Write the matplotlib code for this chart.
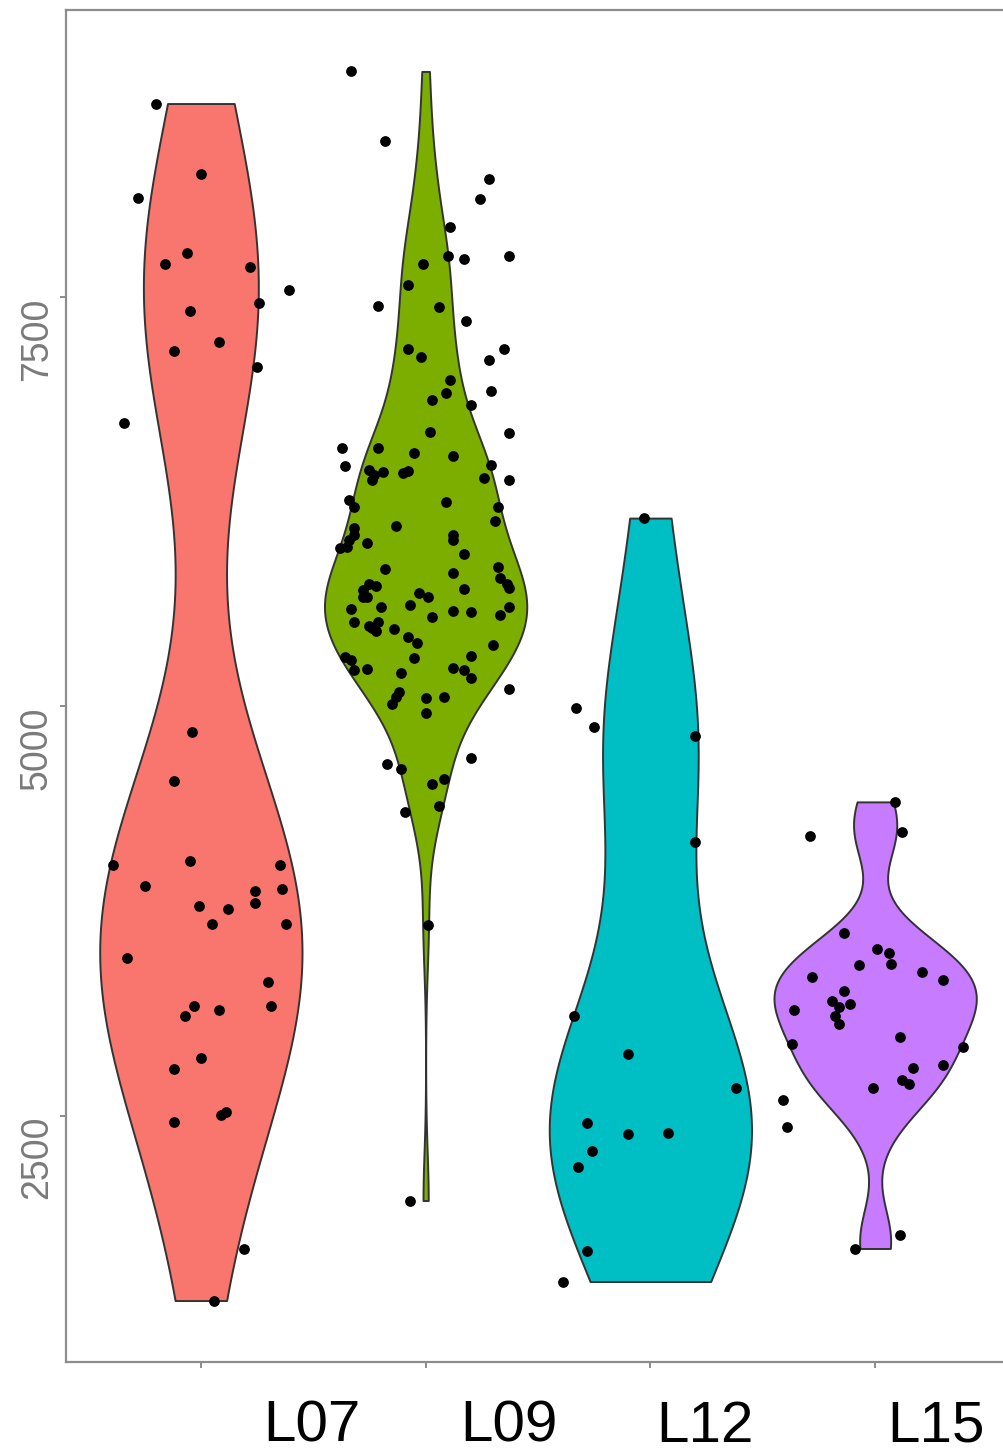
import matplotlib
matplotlib.use("Agg")
import matplotlib.pyplot as plt
import matplotlib.transforms as mtransforms
import numpy as np

# groups and fill colours (ggplot default hues)
groups = ["L07", "L09", "L12", "L15"]
colors = ["#F8766D", "#7CAE00", "#00BFC4", "#C77CFF"]

# values, with the horizontal jitter of each dot
l07_vals = [8684, 8104, 8251, 7701, 7768, 7683, 7414, 7463, 7543, 7225, 7170, 7072, 6731,
            4844, 4545, 4032, 4057, 3904, 4032, 3886, 3873, 3800, 3782, 3764, 3672, 3672,
            3464, 3318, 3171, 3171, 3147, 3110, 2854, 2787, 2524, 2506, 2463, 1682, 1370]
l07_jit = [-0.20, -0.28, 0.00, -0.16, -0.06, 0.22, -0.05, 0.26, 0.39, 0.08, -0.12, 0.25, -0.34,
           -0.04, -0.12, -0.39, -0.05, -0.25, 0.35, 0.36, 0.24, 0.24, -0.01, 0.12, 0.05, 0.38,
           -0.33, 0.30, 0.31, -0.03, 0.08, -0.07, 0.00, -0.12, 0.11, 0.09, -0.12, 0.19, 0.06]

l09_vals = [8880, 8458, 8220, 8098, 7927, 7750, 7732, 7750, 7701, 7573, 7445, 7439, 7353,
            7182, 7134, 7182, 7115, 6993, 6914, 6926, 6871, 6840, 6676, 6670,
            6578, 6578, 6547, 6529, 6468, 6444, 6413, 6431, 6383, 6425, 6438, 6474, 6395,
            6383, 6248, 6260, 6218, 6218, 6132, 6102, 6090, 6047, 6016, 5967, 5974, 5998,
            6047, 6016, 5931, 5839, 5851, 5784, 5748, 5723, 5815, 5748, 5711, 5735, 5668,
            5668, 5693, 5668, 5717, 5619, 5595, 5607, 5546, 5583, 5577, 5607, 5558, 5516,
            5516, 5479, 5461, 5491, 5473, 5424, 5387, 5375, 5302, 5284, 5223, 5229, 5204,
            5296, 5308, 5235, 5223, 5174, 5107, 5088, 5058, 5015, 5052, 5058, 4960, 4685,
            4649, 4618, 4557, 4527, 4392, 4356, 3666, 1981]
l09_jit = [-0.33, -0.18, 0.28, 0.24, 0.11, 0.10, 0.17, 0.37, -0.01, -0.08, -0.21, 0.06, 0.18,
           -0.08, -0.02, 0.35, 0.28, 0.11, 0.09, 0.29, 0.03, 0.20, 0.02, 0.37,
           -0.37, -0.21, -0.05, 0.12, -0.36, -0.25, -0.23, -0.19, -0.24, -0.10, -0.08, 0.29, 0.26,
           0.37, 0.09, -0.34, -0.32, 0.32, 0.31, -0.13, -0.32, -0.32, -0.34, -0.38, -0.35, -0.26,
           0.12, 0.12, 0.17, -0.18, 0.32, 0.33, 0.36, 0.37, 0.12, -0.25, -0.28, -0.22, -0.28,
           -0.26, -0.03, 0.01, 0.17, -0.07, -0.33, -0.20, 0.03, 0.12, 0.20, 0.37, 0.33, -0.32,
           -0.21, -0.24, -0.22, -0.25, -0.14, -0.08, -0.04, 0.30, -0.36, -0.33, -0.32, -0.26, -0.11,
           -0.05, 0.20, 0.12, 0.17, 0.20, 0.37, -0.12, -0.13, -0.15, 0.00, 0.08, 0.00, 0.20,
           -0.17, -0.11, 0.08, 0.03, 0.06, -0.09, 0.01, -0.07]

l12_vals = [6151, 4991, 4875, 4820, 4173, 3110, 2878, 2671, 2457, 2390, 2396, 2286, 2188, 1670, 1486]
l12_jit = [-0.03, -0.33, -0.25, 0.20, 0.20, -0.34, -0.10, 0.38, -0.28, -0.10, 0.08, -0.26, -0.32, -0.28, -0.39]

l15_vals = [4417, 4234, 4209, 3617, 3519, 3495, 3428, 3422, 3348, 3379, 3330, 3263, 3202, 3184,
            3165, 3110, 3061, 3147, 2939, 2982, 2921, 2811, 2793, 2720, 2695, 2671, 2597, 2432,
            1773, 1688]
l15_jit = [0.09, 0.12, -0.29, -0.14, 0.01, 0.06, 0.07, -0.07, -0.28, 0.21, 0.30, -0.14, -0.19, -0.11,
           -0.16, -0.18, -0.16, -0.36, -0.37, 0.11, 0.39, 0.30, 0.17, 0.12, 0.15, -0.01, -0.41, -0.39,
           0.11, -0.09]

yticks = [2500, 5000, 7500]

values = [l07_vals, l09_vals, l12_vals, l15_vals]
jitter = [l07_jit, l09_jit, l12_jit, l15_jit]


def nrd0(kde):
    # R's bw.nrd0 expressed as a factor of the sample sd
    d = kde.dataset.ravel()
    sd = np.std(d, ddof=1)
    iqr = np.subtract(*np.percentile(d, [75, 25]))
    bw = 0.9 * min(sd, iqr / 1.34) * len(d) ** -0.2
    return bw / sd


plt.rcParams["font.family"] = ["Liberation Sans", "DejaVu Sans"]

fig = plt.figure(figsize=(10.04, 14.55), dpi=100)
ax = fig.add_axes([66 / 1004, 93 / 1455, 944 / 1004, 1352 / 1455])

pos = np.arange(1, len(groups) + 1)
parts = ax.violinplot(values, positions=pos, widths=0.9, showextrema=False,
                      points=512, bw_method=nrd0)
for body, c in zip(parts["bodies"], colors):
    body.set_facecolor(c)
    body.set_edgecolor("#333333")
    body.set_linewidth(1.4)
    body.set_alpha(1)

for i in range(len(groups)):
    x = pos[i] + np.array(jitter[i])
    ax.scatter(x, values[i], s=60, color="black", zorder=3, linewidths=0)

allv = np.concatenate(values)
lo, hi = allv.min(), allv.max()
ax.set_ylim(lo - 0.05 * (hi - lo), hi + 0.05 * (hi - lo))
ax.set_xlim(0.4, 4.6)

ax.set_yticks(yticks)
ax.set_yticklabels([str(t) for t in yticks], rotation=90, va="top", ha="right",
                   fontsize=27, color="#7a7a7a")
ax.set_xticks(pos)
ax.set_xticklabels([""] * len(groups))
ax.tick_params(axis="both", length=4, width=1.4, color="#8c8c8c", pad=4)

for s in ax.spines.values():
    s.set_color("#8c8c8c")
    s.set_linewidth(1.6)

# category labels sit to the right of their ticks
trans = mtransforms.blended_transform_factory(ax.transData, fig.transFigure)
label_x = [1.494, 2.371, 3.243, 4.271]
for lx, g in zip(label_x, groups):
    ax.text(lx, 1 / 1455, g, transform=trans, ha="center", va="bottom",
            fontsize=42, color="black", clip_on=False)

plt.savefig("out.png", dpi=100)
